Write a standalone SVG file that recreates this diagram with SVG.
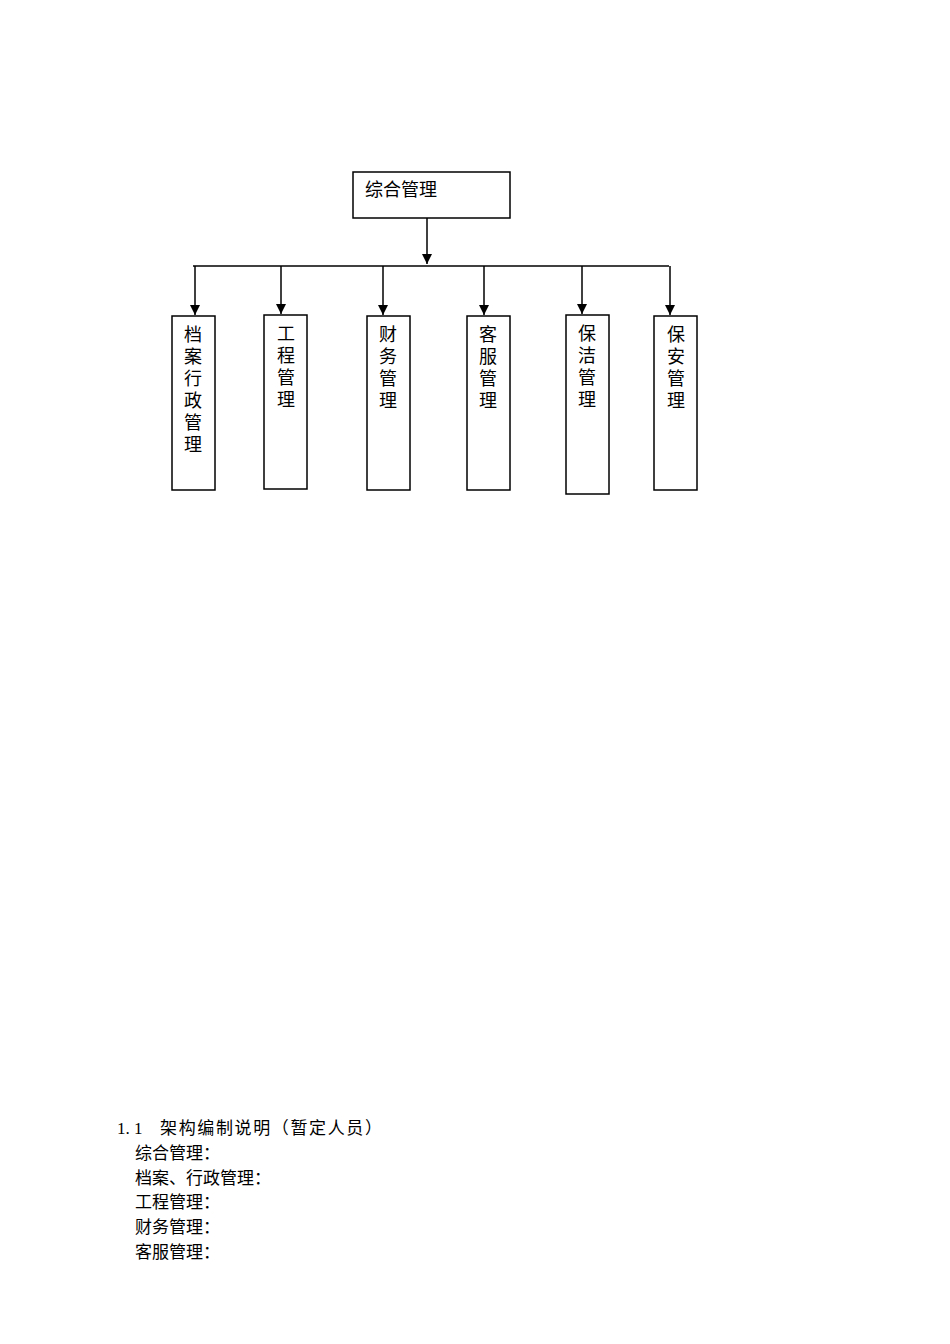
<svg xmlns="http://www.w3.org/2000/svg" width="950" height="1344" viewBox="0 0 950 1344">
<style>
.b{fill:#fff;stroke:#000;stroke-width:1.5}
.t{font-family:"Liberation Serif","Noto Sans CJK SC",serif;font-size:18px;fill:#000}
.s{font-family:"Liberation Serif","Noto Sans CJK SC",serif;font-size:17px;fill:#000}
.c{stroke:#000;stroke-width:1.5;fill:none}
</style>
<defs><marker id="a" viewBox="0 0 10 10" refX="10" refY="5" markerWidth="10" markerHeight="10" markerUnits="userSpaceOnUse" orient="auto"><path d="M0,0L10,5L0,10z" fill="#000"/></marker></defs>
<rect width="950" height="1344" fill="#fff"/>
<g id="connectors">
<line class="c" x1="427" y1="218" x2="427" y2="264" marker-end="url(#a)"/>
<line class="c" x1="193" y1="266" x2="669" y2="266"/>
<line class="c" x1="195" y1="266" x2="195" y2="315" marker-end="url(#a)"/>
<line class="c" x1="281" y1="266" x2="281" y2="314" marker-end="url(#a)"/>
<line class="c" x1="383" y1="266" x2="383" y2="315" marker-end="url(#a)"/>
<line class="c" x1="484" y1="266" x2="484" y2="315" marker-end="url(#a)"/>
<line class="c" x1="582" y1="266" x2="582" y2="314" marker-end="url(#a)"/>
<line class="c" x1="670" y1="266" x2="670" y2="315" marker-end="url(#a)"/>
</g>
<g id="n0"><rect class="b" x="353" y="172" width="157" height="46"/><text class="t" x="365" y="196">综合管理</text></g>
<g id="n1"><rect class="b" x="172" y="316" width="43" height="174"/><text class="t" x="184" y="341">档</text><text class="t" x="184" y="363">案</text><text class="t" x="184" y="385">行</text><text class="t" x="184" y="407">政</text><text class="t" x="184" y="429">管</text><text class="t" x="184" y="451">理</text></g>
<g id="n2"><rect class="b" x="264" y="315" width="43" height="174"/><text class="t" x="277" y="340">工</text><text class="t" x="277" y="362">程</text><text class="t" x="277" y="384">管</text><text class="t" x="277" y="406">理</text></g>
<g id="n3"><rect class="b" x="367" y="316" width="43" height="174"/><text class="t" x="379" y="341">财</text><text class="t" x="379" y="363">务</text><text class="t" x="379" y="385">管</text><text class="t" x="379" y="407">理</text></g>
<g id="n4"><rect class="b" x="467" y="316" width="43" height="174"/><text class="t" x="479" y="341">客</text><text class="t" x="479" y="363">服</text><text class="t" x="479" y="385">管</text><text class="t" x="479" y="407">理</text></g>
<g id="n5"><rect class="b" x="566" y="315" width="43" height="179"/><text class="t" x="578" y="340">保</text><text class="t" x="578" y="362">洁</text><text class="t" x="578" y="384">管</text><text class="t" x="578" y="406">理</text></g>
<g id="n6"><rect class="b" x="654" y="316" width="43" height="174"/><text class="t" x="667" y="341">保</text><text class="t" x="667" y="363">安</text><text class="t" x="667" y="385">管</text><text class="t" x="667" y="407">理</text></g>
<g id="notes">
<text class="s" x="117" y="1134">1. 1</text>
<text class="s" x="160" y="1134" textLength="222" lengthAdjust="spacing">架构编制说明（暂定人员）</text>
<text class="s" x="135" y="1159">综合管理：</text>
<text class="s" x="135" y="1184">档案、行政管理：</text>
<text class="s" x="135" y="1208">工程管理：</text>
<text class="s" x="135" y="1233">财务管理：</text>
<text class="s" x="135" y="1258">客服管理：</text>
</g>
</svg>
